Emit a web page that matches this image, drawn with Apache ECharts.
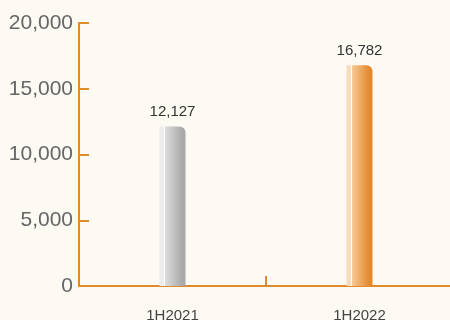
<!DOCTYPE html>
<html>
<head>
<meta charset="utf-8">
<script src="https://cdn.jsdelivr.net/npm/echarts@6/dist/echarts.min.js"></script>
<style>
  html, body { margin: 0; padding: 0; background: #fdf9f3; }
  #chart { width: 450px; height: 320px; }
</style>
</head>
<body>
<div id="chart"></div>
<script>
const categories = ['1H2021', '1H2022'];
const values = [12127, 16782];
const yTicks = [0, 5000, 10000, 15000, 20000];

// Bar fill: thin pale strip, a thin white seam, then the shaded body.
function barFill(strip, light, dark) {
  return {
    type: 'linear', x: 0, y: 0, x2: 1, y2: 0,
    colorStops: [
      { offset: 0, color: strip },
      { offset: 0.19, color: strip },
      { offset: 0.19, color: '#ffffff' },
      { offset: 0.23, color: '#ffffff' },
      { offset: 0.23, color: light },
      { offset: 0.88, color: dark },
      { offset: 1, color: dark }
    ]
  };
}
const fills = [
  barFill('#ededed', '#dcdcdc', '#a9a9a9'),
  barFill('#fadcbd', '#f6c894', '#e4892c')
];

const axisColor = '#e08a2e';
const chart = echarts.init(document.getElementById('chart'));
chart.setOption({
  backgroundColor: '#fdf9f3',
  animation: false,
  grid: { left: 79, top: 23, width: 374, height: 263, outerBoundsMode: 'none', containLabel: false },
  xAxis: [{
    type: 'category',
    data: categories,
    boundaryGap: true,
    axisLine: { lineStyle: { color: axisColor, width: 2 } },
    axisTick: { show: false },
    axisLabel: { color: '#444', fontSize: 15, fontFamily: '"Liberation Sans", Arial', margin: 22 }
  }, {
    // divider tick between the two periods
    type: 'value',
    position: 'bottom',
    min: 0, max: categories.length, interval: 1,
    splitLine: { show: false },
    axisLine: { show: false },
    axisLabel: { show: false },
    axisTick: {
      show: true, inside: true, length: 10, customValues: [1],
      lineStyle: { color: axisColor, width: 2 }
    }
  }],
  yAxis: {
    type: 'value',
    min: yTicks[0],
    max: yTicks[yTicks.length - 1],
    interval: yTicks[1] - yTicks[0],
    splitLine: { show: false },
    axisLine: { show: true, lineStyle: { color: axisColor, width: 2 } },
    axisTick: { show: true, inside: true, length: 10, lineStyle: { color: axisColor, width: 2 } },
    axisLabel: {
      color: '#666', fontSize: 21, fontFamily: '"Liberation Sans", Arial', margin: 6,
      formatter: v => v.toLocaleString('en-US')
    }
  },
  series: [{
    type: 'bar',
    xAxisIndex: 0,
    barWidth: 26,
    data: values.map((v, i) => ({ value: v, itemStyle: { color: fills[i], borderRadius: [0, 6, 0, 0] } })),
    label: {
      show: true, position: 'top', distance: 7,
      color: '#333', fontSize: 15, fontFamily: '"Liberation Sans", Arial',
      formatter: p => p.value.toLocaleString('en-US')
    }
  }]
});
</script>
</body>
</html>
